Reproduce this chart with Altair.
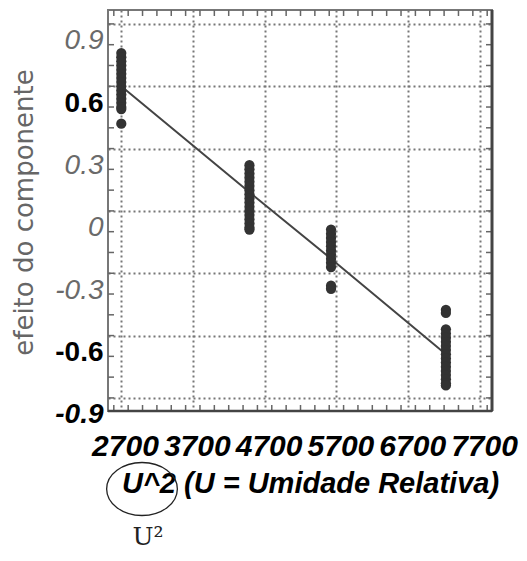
import altair as alt
import pandas as pd

# ---- data ----
U2_LEVELS = [2704, 4489, 5625, 7225]

EFFECT_U2_2704 = [0.76, 0.74, 0.72, 0.70, 0.68, 0.66, 0.64, 0.62, 0.60, 0.58,
                  0.56, 0.54, 0.52, 0.50, 0.49, 0.42]
EFFECT_U2_4489 = [0.22, 0.20, 0.18, 0.16, 0.14, 0.12, 0.10, 0.08, 0.06, 0.04,
                  0.02, 0.00, -0.02, -0.04, -0.06, -0.08, -0.09]
EFFECT_U2_5625 = [-0.09, -0.11, -0.13, -0.15, -0.17, -0.19, -0.21, -0.23,
                  -0.25, -0.27, -0.36, -0.375]
EFFECT_U2_7225 = [-0.476, -0.491, -0.57, -0.59, -0.61, -0.63, -0.65, -0.67,
                  -0.69, -0.71, -0.73, -0.75, -0.77, -0.79, -0.81, -0.83, -0.84]

FIT_LINE = [0.60, 0.09, -0.23, -0.69]

X_TICKS = [2700, 3700, 4700, 5700, 6700, 7700]
Y_TICKS = [0.9, 0.6, 0.3, 0.0, -0.3, -0.6, -0.9]
X_MINOR = list(range(2600, 7801, 200))
Y_MINOR = [v / 10 for v in range(-9, 10)]

X_TITLE = "U^2 (U = Umidade Relativa)"
Y_TITLE = "efeito do componente"
NOTE = "U²"

# ---- tables ----
groups = [EFFECT_U2_2704, EFFECT_U2_4489, EFFECT_U2_5625, EFFECT_U2_7225]
pts = pd.DataFrame(
    [{"u2": u, "efeito": v} for u, vals in zip(U2_LEVELS, groups) for v in vals]
)
fit = pd.DataFrame({"u2": U2_LEVELS, "efeito": FIT_LINE})
xminor = pd.DataFrame({"u2": X_MINOR})
yminor = pd.DataFrame({"efeito": Y_MINOR})

W, H = 384, 401
xscale = alt.Scale(domain=[2519, 7867], nice=False, zero=False)
yscale = alt.Scale(domain=[-0.963, 0.967], nice=False, zero=False)

black_lab = "abs(datum.value - 0.6) < 0.01 || abs(datum.value + 0.6) < 0.01 || abs(datum.value + 0.9) < 0.01"
upright_lab = "abs(datum.value - 0.6) < 0.01 || abs(datum.value + 0.6) < 0.01"

x_axis = alt.Axis(
    values=X_TICKS, grid=True, gridColor="#777777", gridDash=[2, 3], gridWidth=2,
    ticks=False, domain=False, labelFont="Liberation Sans", labelFontSize=30,
    labelFontWeight="bold", labelFontStyle="italic", labelColor="black",
    labelExpr="toString(datum.value)", labelOffset=4,
    labelPadding=20, labelOverlap=False, labelFlush=False,
    title=X_TITLE, titleFont="Liberation Sans", titleFontSize=29,
    titleFontWeight="bold", titleFontStyle="italic", titleColor="black",
    titleX=202, titleY=81, titleAlign="center", titleBaseline="alphabetic",
)
y_axis = alt.Axis(
    values=Y_TICKS, grid=True, gridColor="#777777", gridDash=[2, 3], gridWidth=2,
    ticks=False, domain=False, labelFont="Liberation Sans", labelFontSize=28,
    labelExpr="datum.value == 0 ? '0' : toString(datum.value)",
    labelFontWeight=alt.condition(black_lab, alt.value("bold"), alt.value("normal")),
    labelFontStyle=alt.condition(upright_lab, alt.value("normal"), alt.value("italic")),
    labelColor=alt.condition(black_lab, alt.value("black"), alt.value("#6a6a6a")),
    labelOffset=17, labelPadding=5, labelOverlap=False, labelFlush=False,
    title=Y_TITLE, titleFont="DejaVu Sans", titleFontSize=26, titleFontWeight="normal",
    titleColor="#666666", titleAngle=270, titleX=-84, titleY=202,
    titleAlign="center", titleBaseline="middle",
)

X = alt.X("u2:Q", scale=xscale, axis=x_axis)
Y = alt.Y("efeito:Q", scale=yscale, axis=y_axis)

points = alt.Chart(pts).mark_circle(size=105, color="#333333", opacity=1).encode(x=X, y=Y)
line = alt.Chart(fit).mark_line(color="#444444", strokeWidth=2).encode(x=X, y=Y)
top_ticks = alt.Chart(xminor).mark_rule(color="#666", strokeWidth=1.5).encode(
    x=X, y=alt.value(0), y2=alt.value(6))
bot_ticks = alt.Chart(xminor).mark_rule(color="#666", strokeWidth=1.5).encode(
    x=X, y=alt.value(H), y2=alt.value(H - 6))
left_ticks = alt.Chart(yminor).mark_rule(color="#666", strokeWidth=1.5).encode(
    y=Y, x=alt.value(0), x2=alt.value(6))
right_ticks = alt.Chart(yminor).mark_rule(color="#666", strokeWidth=1.5).encode(
    y=Y, x=alt.value(W), x2=alt.value(W - 6))
right_edge = alt.Chart(alt.Data(values=[{"k": 1}])).mark_rule(
    color="#444", strokeWidth=3).encode(x=alt.value(W), y=alt.value(0), y2=alt.value(H))
bottom_edge = alt.Chart(alt.Data(values=[{"k": 1}])).mark_rule(
    color="#444", strokeWidth=2.5).encode(y=alt.value(H), x=alt.value(0), x2=alt.value(W))

one = alt.Data(values=[{"k": 1}])
ellipse = alt.Chart(one).mark_point(
    shape="M-1,0 A1,0.75 0 1,1 1,0 A1,0.75 0 1,1 -1,0 Z",
    size=5000, filled=False, stroke="#222", strokeWidth=1.3, opacity=1,
).encode(x=alt.value(34), y=alt.value(479))
note = alt.Chart(one).mark_text(
    text=NOTE, font="DejaVu Serif", fontSize=25, color="#222", align="center",
    baseline="alphabetic",
).encode(x=alt.value(40), y=alt.value(535))

chart = alt.layer(
    top_ticks, bot_ticks, left_ticks, right_ticks, right_edge, bottom_edge,
    line, points, ellipse, note
).properties(
    width=W, height=H,
    autosize=alt.AutoSizeParams(type="none"),
    padding={"left": 100, "top": 2, "right": 27, "bottom": 142},
).configure_view(stroke="#777777", strokeWidth=2)

chart.save("out.html", embed_options={"renderer": "svg", "actions": False})
